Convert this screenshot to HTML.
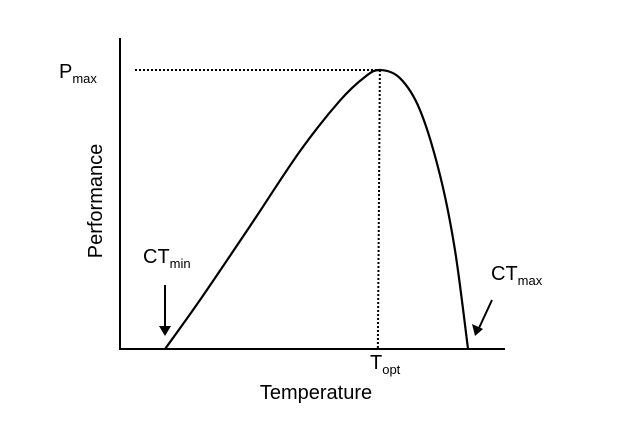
<!DOCTYPE html>
<html><head><meta charset="utf-8"><style>
html,body{margin:0;padding:0;background:#fff;}
svg{display:block;font-family:"Liberation Sans",sans-serif;}
</style></head><body>
<svg id="chart" width="631" height="424" viewBox="0 0 631 424">
<line x1="120" y1="38" x2="120" y2="349" stroke="#000" stroke-width="2"/>
<line x1="119" y1="349" x2="505" y2="349" stroke="#000" stroke-width="2"/>
<text x="102" y="201" font-size="20" text-anchor="middle" transform="rotate(-90 102 201)">Performance</text>
<text x="316" y="399" font-size="20" text-anchor="middle">Temperature</text>
<text x="59" y="78" font-size="20">P<tspan font-size="13" dy="5">max</tspan></text>
<text x="143" y="263" font-size="20">CT<tspan font-size="13" dy="5">min</tspan></text>
<text x="491" y="280" font-size="20">CT<tspan font-size="13" dy="5">max</tspan></text>
<text x="370" y="369" font-size="20">T<tspan font-size="13" dy="5">opt</tspan></text>
<line x1="165" y1="285" x2="165" y2="330" stroke="#000" stroke-width="2"/>
<polygon points="159,326 171,326 165,336" fill="#000"/>
<line x1="492" y1="300" x2="479" y2="328" stroke="#000" stroke-width="2"/>
<polygon points="472,324 483,329 475,336" fill="#000"/>
<g id="plot"></g>
</svg>
<script>
const temps = [11.7, 20.8, 33.8, 46.8, 57.1, 63.6, 67.5, 72.7, 77.9, 83.1, 87.0, 90.4];
const perf = [0, 17.6, 44.1, 71, 89, 97.5, 100, 97.1, 85.7, 62.4, 35.5, 0];
const peakIndex = 6;
const xs = t => 120 + t * 3.85;
const ys = p => 349 - p * 2.79;
const g = document.getElementById('plot');
const NS = 'http://www.w3.org/2000/svg';
const P = temps.map((t, i) => [xs(t), ys(perf[i])]);
let d = 'M' + P[0][0] + ',' + P[0][1];
for (let i = 0; i < P.length - 1; i++) {
  const p0 = P[Math.max(0, i - 1)], p1 = P[i], p2 = P[i + 1], p3 = P[Math.min(P.length - 1, i + 2)];
  const c1 = [p1[0] + (p2[0] - p0[0]) / 6, p1[1] + (p2[1] - p0[1]) / 6];
  const c2 = [p2[0] - (p3[0] - p1[0]) / 6, p2[1] - (p3[1] - p1[1]) / 6];
  d += ` C${c1[0]},${c1[1]} ${c2[0]},${c2[1]} ${p2[0]},${p2[1]}`;
}
const px = xs(temps[peakIndex]), py = ys(perf[peakIndex]);
const h = document.createElementNS(NS, 'line');
h.setAttribute('x1', 135); h.setAttribute('y1', py); h.setAttribute('x2', px); h.setAttribute('y2', py);
h.setAttribute('stroke', '#000'); h.setAttribute('stroke-width', '2'); h.setAttribute('stroke-dasharray', '2,2');


g.appendChild(h);
const v = document.createElementNS(NS, 'line');
v.setAttribute('x1', px); v.setAttribute('y1', py); v.setAttribute('x2', px - 2); v.setAttribute('y2', 349);
v.setAttribute('stroke', '#000'); v.setAttribute('stroke-width', '2'); v.setAttribute('stroke-dasharray', '2,2');


g.appendChild(v);
const path = document.createElementNS(NS, 'path');
path.setAttribute('d', d); path.setAttribute('fill', 'none'); path.setAttribute('stroke', '#000'); path.setAttribute('stroke-width', '2.2');


g.appendChild(path);
</script>
</body></html>
